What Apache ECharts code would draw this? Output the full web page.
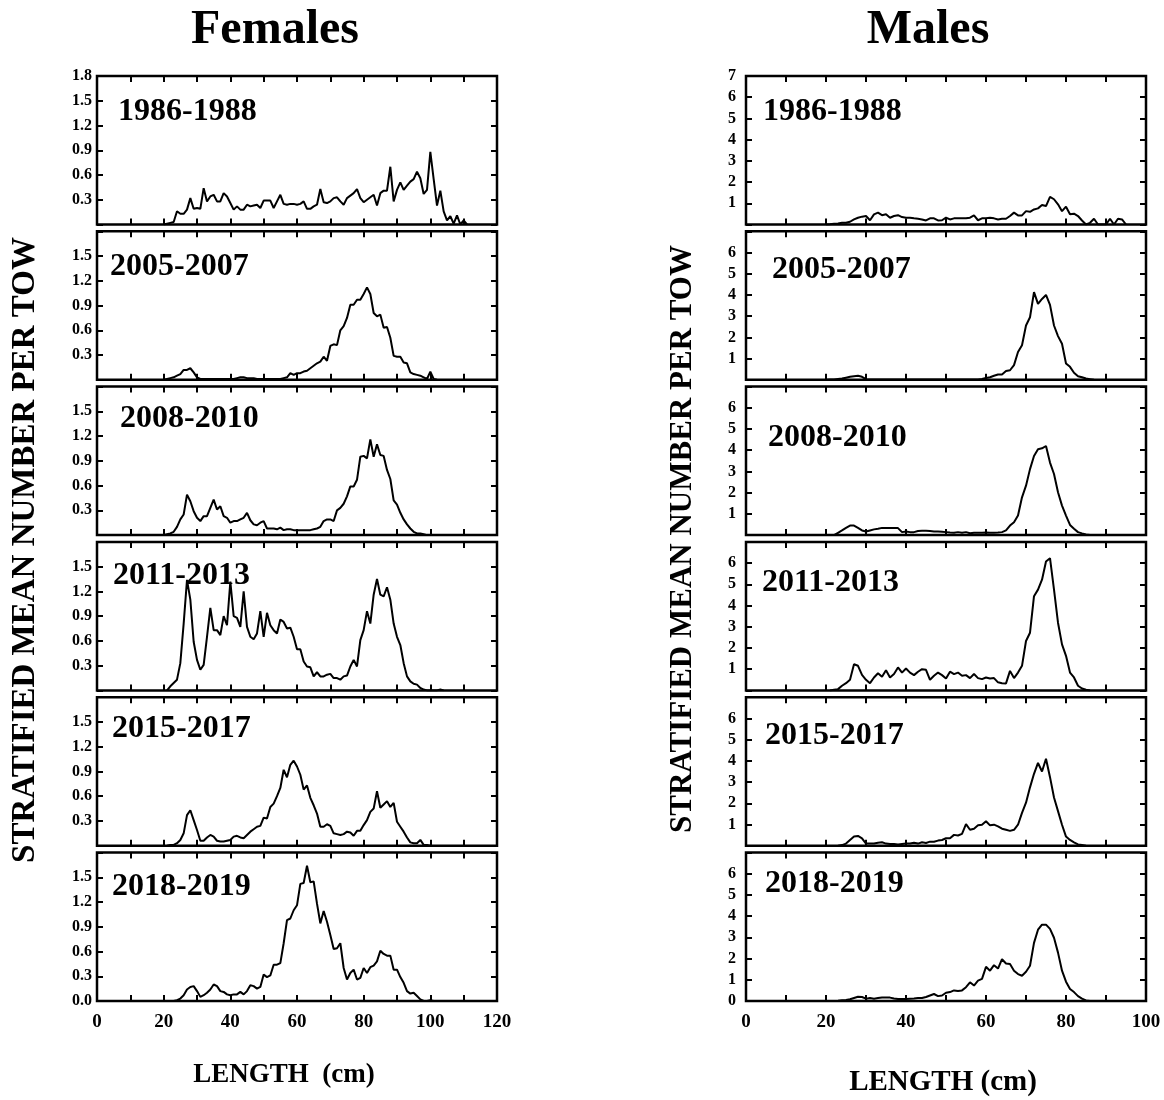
<!DOCTYPE html>
<html><head><meta charset="utf-8">
<script src="https://cdn.jsdelivr.net/npm/echarts@6/dist/echarts.min.js"></script>
<style>html,body{margin:0;padding:0;background:#fff}#c{width:1164px;height:1100px}</style>
</head><body><div id="c"></div>
<script>
// ---------------- DATA ----------------
const panelLabels = ['1986-1988', '2005-2007', '2008-2010', '2011-2013', '2015-2017', '2018-2019'];
const columnTitles = ['Females', 'Males'];
const yAxisTitle = 'STRATIFIED MEAN NUMBER PER TOW';
const xAxisTitles = ['LENGTH  (cm)', 'LENGTH (cm)'];

const femaleXTickLabels = ['0', '20', '40', '60', '80', '100', '120'];
const maleXTickLabels = ['0', '20', '40', '60', '80', '100'];
const femaleYTickLabels = ['0.0', '0.3', '0.6', '0.9', '1.2', '1.5', '1.8'];
const maleYTickLabels = ['0', '1', '2', '3', '4', '5', '6', '7'];

// first length (cm) of each series below; values are at 1 cm steps
const femaleStart = [20, 20, 20, 21, 21, 22];
const maleStart = [20, 20, 22, 21, 23, 22];

const female1986 = [0, 0.01, 0.02, 0.03, 0.16, 0.13, 0.13, 0.18, 0.32, 0.19, 0.2, 0.19, 0.44, 0.28, 0.34, 0.36, 0.28, 0.28, 0.38, 0.34,
  0.26, 0.18, 0.22, 0.18, 0.18, 0.24, 0.22, 0.23, 0.24, 0.2, 0.29, 0.29, 0.29, 0.2, 0.28, 0.36, 0.25, 0.24, 0.25, 0.25,
  0.24, 0.25, 0.28, 0.19, 0.19, 0.22, 0.24, 0.43, 0.27, 0.26, 0.28, 0.32, 0.33, 0.28, 0.24, 0.32, 0.35, 0.38, 0.43, 0.32,
  0.27, 0.3, 0.33, 0.36, 0.23, 0.38, 0.41, 0.41, 0.7, 0.28, 0.42, 0.51, 0.42, 0.47, 0.52, 0.55, 0.64, 0.56, 0.37, 0.42,
  0.88, 0.55, 0.23, 0.41, 0.16, 0.05, 0.1, 0.01, 0.11, 0, 0.05, 0];
const female2005 = [0, 0.01, 0.02, 0.03, 0.05, 0.07, 0.12, 0.12, 0.14, 0.09, 0.03, 0.01, 0.01, 0.01, 0.01, 0.01, 0.01, 0.01, 0.01, 0.01,
  0.01, 0.01, 0.02, 0.03, 0.03, 0.02, 0.02, 0.02, 0.01, 0.01, 0.01, 0.01, 0.01, 0.01, 0.01, 0.01, 0.02, 0.03, 0.08, 0.06,
  0.08, 0.08, 0.1, 0.11, 0.14, 0.17, 0.2, 0.22, 0.28, 0.23, 0.41, 0.43, 0.42, 0.6, 0.65, 0.75, 0.91, 0.91, 0.97, 0.97,
  1.04, 1.12, 1.04, 0.81, 0.77, 0.79, 0.63, 0.64, 0.51, 0.29, 0.28, 0.28, 0.21, 0.2, 0.09, 0.07, 0.06, 0.05, 0.03, 0.01,
  0.1, 0.01, 0];
const female2008 = [0, 0.01, 0.02, 0.04, 0.1, 0.19, 0.25, 0.49, 0.41, 0.29, 0.21, 0.17, 0.23, 0.23, 0.33, 0.43, 0.31, 0.35, 0.23, 0.21,
  0.15, 0.17, 0.17, 0.19, 0.21, 0.27, 0.18, 0.13, 0.12, 0.15, 0.17, 0.08, 0.08, 0.08, 0.07, 0.09, 0.06, 0.07, 0.07, 0.06,
  0.06, 0.06, 0.06, 0.06, 0.06, 0.07, 0.08, 0.1, 0.17, 0.19, 0.19, 0.17, 0.3, 0.33, 0.38, 0.47, 0.59, 0.59, 0.67, 0.95,
  0.96, 0.93, 1.16, 0.95, 1.1, 0.97, 0.96, 0.79, 0.68, 0.42, 0.37, 0.27, 0.19, 0.13, 0.08, 0.04, 0.02, 0.02, 0.01, 0];
const female2011 = [0, 0.05, 0.09, 0.13, 0.33, 0.81, 1.34, 1.1, 0.59, 0.37, 0.25, 0.31, 0.65, 1.0, 0.73, 0.73, 0.67, 0.9, 0.79, 1.32,
  0.9, 0.88, 0.77, 1.2, 0.77, 0.65, 0.62, 0.69, 0.96, 0.65, 0.94, 0.79, 0.73, 0.69, 0.86, 0.83, 0.75, 0.76, 0.65, 0.5,
  0.5, 0.35, 0.29, 0.28, 0.17, 0.22, 0.17, 0.17, 0.19, 0.2, 0.15, 0.15, 0.13, 0.17, 0.18, 0.29, 0.37, 0.29, 0.61, 0.73,
  0.96, 0.81, 1.16, 1.35, 1.16, 1.14, 1.25, 1.1, 0.81, 0.65, 0.55, 0.33, 0.17, 0.11, 0.08, 0.07, 0.03, 0.01, 0, 0,
  0, 0, 0.01, 0];
const female2015 = [0, 0.01, 0.01, 0.03, 0.07, 0.15, 0.37, 0.43, 0.31, 0.19, 0.06, 0.06, 0.1, 0.13, 0.11, 0.06, 0.05, 0.05, 0.06, 0.07,
  0.11, 0.12, 0.1, 0.09, 0.13, 0.17, 0.2, 0.23, 0.24, 0.34, 0.33, 0.47, 0.51, 0.6, 0.7, 0.92, 0.83, 0.98, 1.03, 0.96,
  0.86, 0.68, 0.73, 0.58, 0.49, 0.39, 0.23, 0.23, 0.26, 0.24, 0.15, 0.14, 0.13, 0.14, 0.17, 0.16, 0.12, 0.18, 0.18, 0.25,
  0.31, 0.41, 0.45, 0.66, 0.46, 0.5, 0.54, 0.47, 0.52, 0.29, 0.23, 0.17, 0.1, 0.04, 0.03, 0.03, 0.07, 0.01, 0.01, 0];
const female2018 = [0, 0, 0.01, 0.03, 0.07, 0.14, 0.17, 0.18, 0.12, 0.05, 0.07, 0.1, 0.14, 0.2, 0.18, 0.12, 0.11, 0.08, 0.07, 0.08,
  0.08, 0.11, 0.08, 0.12, 0.19, 0.18, 0.15, 0.17, 0.32, 0.29, 0.31, 0.44, 0.44, 0.46, 0.7, 0.98, 1.0, 1.1, 1.16, 1.42,
  1.43, 1.64, 1.44, 1.45, 1.18, 0.94, 1.09, 0.96, 0.8, 0.63, 0.64, 0.7, 0.4, 0.26, 0.34, 0.38, 0.26, 0.28, 0.4, 0.34,
  0.41, 0.43, 0.48, 0.61, 0.57, 0.55, 0.55, 0.38, 0.38, 0.29, 0.22, 0.12, 0.09, 0.1, 0.06, 0.02, 0, 0, 0.01, 0];

const male1986 = [0, 0.01, 0.03, 0.05, 0.08, 0.08, 0.13, 0.24, 0.32, 0.37, 0.4, 0.2, 0.48, 0.56, 0.44, 0.48, 0.32, 0.4, 0.44, 0.35,
  0.32, 0.32, 0.29, 0.27, 0.24, 0.19, 0.29, 0.29, 0.19, 0.2, 0.32, 0.24, 0.29, 0.29, 0.29, 0.29, 0.32, 0.43, 0.2, 0.29,
  0.29, 0.32, 0.29, 0.24, 0.27, 0.27, 0.4, 0.56, 0.43, 0.43, 0.63, 0.6, 0.71, 0.76, 0.92, 0.87, 1.3, 1.19, 0.95, 0.63,
  0.84, 0.48, 0.51, 0.4, 0.19, 0, 0.08, 0.27, 0, 0, 0, 0.27, 0, 0.27, 0.24, 0];
const male2005 = [0, 0.01, 0.02, 0.04, 0.06, 0.1, 0.14, 0.17, 0.19, 0.14, 0.03, 0.02, 0.02, 0.02, 0.01, 0.01, 0.01, 0.01, 0.01, 0.02,
  0.02, 0.02, 0.01, 0.01, 0.01, 0.01, 0.01, 0.01, 0.01, 0.01, 0.01, 0.01, 0.01, 0.01, 0.01, 0.02, 0.02, 0.02, 0.02, 0.04,
  0.09, 0.12, 0.19, 0.25, 0.25, 0.41, 0.45, 0.69, 1.31, 1.63, 2.56, 2.95, 4.13, 3.58, 3.81, 4.0, 3.53, 2.56, 2.06, 1.7,
  0.77, 0.61, 0.33, 0.17, 0.12, 0.06, 0.03, 0];
const male2008 = [0, 0.11, 0.22, 0.34, 0.45, 0.45, 0.34, 0.22, 0.17, 0.22, 0.27, 0.3, 0.34, 0.34, 0.33, 0.33, 0.33, 0.14, 0.17, 0.14,
  0.14, 0.19, 0.2, 0.2, 0.19, 0.17, 0.17, 0.16, 0.14, 0.12, 0.11, 0.14, 0.11, 0.14, 0.09, 0.11, 0.11, 0.11, 0.12, 0.11,
  0.11, 0.12, 0.14, 0.22, 0.45, 0.61, 0.92, 1.78, 2.33, 3.11, 3.73, 4.05, 4.09, 4.2, 3.42, 2.88, 2.02, 1.39, 0.92, 0.48,
  0.3, 0.14, 0.08, 0.03, 0];
const male2011 = [0, 0.03, 0.06, 0.22, 0.34, 0.5, 1.23, 1.16, 0.73, 0.5, 0.34, 0.61, 0.81, 0.64, 0.95, 0.61, 0.77, 1.08, 0.84, 1.03,
  0.84, 0.72, 0.88, 1.0, 0.97, 0.5, 0.69, 0.84, 0.72, 0.56, 0.88, 0.77, 0.84, 0.69, 0.72, 0.58, 0.77, 0.58, 0.53, 0.61,
  0.56, 0.58, 0.38, 0.34, 0.33, 0.92, 0.58, 0.84, 1.16, 2.33, 2.72, 4.44, 4.75, 5.22, 6.08, 6.23, 4.75, 3.19, 2.17, 1.63,
  0.84, 0.61, 0.22, 0.09, 0.03, 0];
const male2015 = [0, 0.03, 0.1, 0.27, 0.43, 0.46, 0.35, 0.1, 0.1, 0.1, 0.14, 0.16, 0.1, 0.08, 0.08, 0.06, 0.08, 0.1, 0.1, 0.14,
  0.1, 0.16, 0.13, 0.19, 0.19, 0.24, 0.27, 0.35, 0.35, 0.51, 0.48, 0.56, 1.02, 0.75, 0.8, 0.96, 0.99, 1.15, 0.96, 0.99,
  0.91, 0.8, 0.75, 0.7, 0.75, 0.99, 1.55, 2.03, 2.75, 3.39, 3.9, 3.5, 4.1, 3.23, 2.27, 1.63, 0.99, 0.43, 0.27, 0.16,
  0.06, 0.03, 0];
const male2018 = [0, 0.01, 0.03, 0.05, 0.08, 0.14, 0.2, 0.19, 0.11, 0.14, 0.11, 0.14, 0.17, 0.17, 0.16, 0.12, 0.09, 0.09, 0.09, 0.11,
  0.12, 0.14, 0.14, 0.19, 0.26, 0.33, 0.23, 0.26, 0.39, 0.42, 0.5, 0.47, 0.5, 0.65, 0.88, 0.73, 0.96, 1.04, 1.61, 1.43,
  1.69, 1.53, 1.97, 1.77, 1.74, 1.43, 1.27, 1.19, 1.38, 1.66, 2.74, 3.36, 3.6, 3.6, 3.4, 2.98, 2.28, 1.43, 0.91, 0.57,
  0.42, 0.23, 0.11, 0.03, 0];

const femaleSeries = [female1986, female2005, female2008, female2011, female2015, female2018];
const maleSeries = [male1986, male2005, male2008, male2011, male2015, male2018];

// ---------------- LAYOUT ----------------
const FONT = '"Liberation Serif", "Times New Roman", serif';
const layout = {
  left: [97, 746], width: 400, top0: 76, pitch: 155.3, height: 148.5,
  labelPos: [
    [[118, 112], [110, 267], [120, 419], [113, 576], [112, 729], [112, 887]],
    [[763, 112], [772, 270], [768, 438], [762, 583], [765, 736], [765, 884]]
  ]
};
const cols = [
  { start: femaleStart, series: femaleSeries, xLabels: femaleXTickLabels, yLabels: femaleYTickLabels, xMax: 120, xInt: 10, yMax: 1.8, yInt: 0.3, labelMargin: 5 },
  { start: maleStart, series: maleSeries, xLabels: maleXTickLabels, yLabels: maleYTickLabels, xMax: 100, xInt: 10, yMax: 7, yInt: 1, labelMargin: 10 }
];

const grid = [], xAxis = [], yAxis = [], series = [], graphic = [];
function tickStyle() { return { show: true, inside: true, length: 6, lineStyle: { color: '#000', width: 2 } }; }
function noLine() { return { show: false, onZero: false }; }

cols.forEach((c, s) => {
  for (let p = 0; p < 6; p++) {
    const gi = grid.length;
    const top = layout.top0 + layout.pitch * p;
    grid.push({ left: layout.left[s], top: top, width: layout.width, height: layout.height, show: true, borderColor: '#000', borderWidth: 2.5, backgroundColor: 'transparent' });
    const isBottom = p === 5, isTop = p === 0;
    xAxis.push({
      type: 'value', gridIndex: gi, min: 0, max: c.xMax, interval: c.xInt, position: 'bottom',
      axisLine: noLine(), splitLine: { show: false }, axisTick: tickStyle(),
      axisLabel: {
        show: isBottom, inside: false, margin: 12, color: '#000', fontFamily: FONT, fontWeight: 'bold', fontSize: 19,
        formatter: v => { const t = String(Math.round(v)); return c.xLabels.indexOf(t) >= 0 ? t : ''; }
      }
    });
    xAxis.push({
      type: 'value', gridIndex: gi, min: 0, max: c.xMax, interval: c.xInt, position: 'top',
      axisLine: noLine(), splitLine: { show: false }, axisTick: tickStyle(), axisLabel: { show: false }
    });
    const nY = c.yLabels.length - 1;
    yAxis.push({
      type: 'value', gridIndex: gi, min: 0, max: c.yMax, interval: c.yInt, position: 'left',
      axisLine: noLine(), splitLine: { show: false }, axisTick: tickStyle(),
      axisLabel: {
        show: true, inside: false, margin: c.labelMargin, color: '#000', fontFamily: FONT, fontWeight: 'bold', fontSize: 16,
        showMinLabel: true, showMaxLabel: true,
        formatter: v => {
          const idx = Math.round(v / c.yInt);
          if (idx === 0 && !isBottom) return '';
          if (idx === nY && !isTop) return '';
          return c.yLabels[idx] || '';
        }
      }
    });
    yAxis.push({
      type: 'value', gridIndex: gi, min: 0, max: c.yMax, interval: c.yInt, position: 'right',
      axisLine: noLine(), splitLine: { show: false }, axisTick: tickStyle(), axisLabel: { show: false }
    });
    const st = c.start[p];
    series.push({
      type: 'line', xAxisIndex: xAxis.length - 2, yAxisIndex: yAxis.length - 2,
      data: c.series[p].map((v, i) => [st + i, v]),
      showSymbol: false, symbol: 'none', smooth: false, animation: false,
      lineStyle: { color: '#000', width: 2 }, z: 3
    });
    const lp = layout.labelPos[s][p];
    graphic.push({ type: 'text', x: lp[0], y: lp[1], z: 10,
      style: { text: panelLabels[p], font: 'bold 32px ' + FONT, fill: '#000', align: 'left', verticalAlign: 'middle' } });
  }
});

// column titles
graphic.push({ type: 'text', x: 275, y: 31, style: { text: columnTitles[0], font: 'bold 48px ' + FONT, fill: '#000', align: 'center', verticalAlign: 'middle' } });
graphic.push({ type: 'text', x: 928, y: 31, style: { text: columnTitles[1], font: 'bold 48px ' + FONT, fill: '#000', align: 'center', verticalAlign: 'middle' } });
// y axis titles
graphic.push({ type: 'text', x: 25, y: 550, rotation: Math.PI / 2, style: { text: yAxisTitle, font: 'bold 33px ' + FONT, fill: '#000', align: 'center', verticalAlign: 'middle' } });
graphic.push({ type: 'text', x: 683, y: 539, rotation: Math.PI / 2, style: { text: yAxisTitle, font: 'bold 31px ' + FONT, fill: '#000', align: 'center', verticalAlign: 'middle' } });
// x axis titles
graphic.push({ type: 'text', x: 284, y: 1075, style: { text: xAxisTitles[0], font: 'bold 27px ' + FONT, fill: '#000', align: 'center', verticalAlign: 'middle' } });
graphic.push({ type: 'text', x: 943, y: 1083, style: { text: xAxisTitles[1], font: 'bold 29px ' + FONT, fill: '#000', align: 'center', verticalAlign: 'middle' } });

const chart = echarts.init(document.getElementById('c'), null, { renderer: 'canvas' });
chart.setOption({ animation: false, backgroundColor: '#fff', grid, xAxis, yAxis, series, graphic });
</script></body></html>
